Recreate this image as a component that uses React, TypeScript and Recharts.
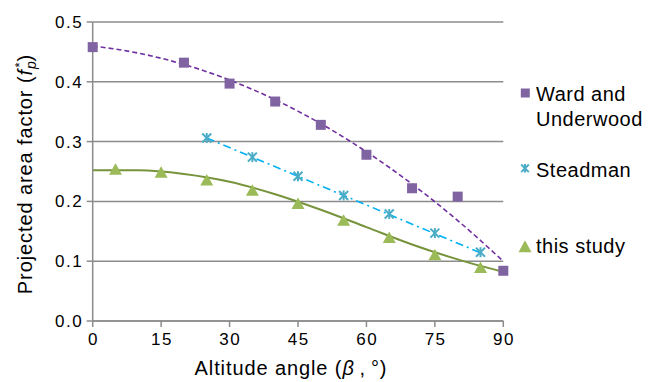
import React from 'react';
import { ComposedChart, XAxis, YAxis, CartesianGrid, Scatter, Line, Legend, Label } from 'recharts';

// ---- data ----
const xTicks = [0, 15, 30, 45, 60, 75, 90];
const yTicks = [0, 0.1, 0.2, 0.3, 0.4, 0.5];

const wardX = [0, 20, 30, 40, 50, 60, 70, 80, 90];
const wardY = [0.458, 0.432, 0.397, 0.367, 0.328, 0.278, 0.222, 0.208, 0.084];

const steadmanX = [25, 35, 45, 55, 65, 75, 85];
const steadmanY = [0.306, 0.274, 0.242, 0.21, 0.179, 0.147, 0.115];

const studyX = [5, 15, 25, 35, 45, 55, 65, 75, 85];
const studyY = [0.254, 0.249, 0.236, 0.219, 0.197, 0.169, 0.14, 0.111, 0.09];

// trend lines
const wardTrendX = [0, 10, 20, 30, 40, 50, 60, 70, 80, 90];
const wardTrendY = [0.46, 0.448, 0.429, 0.403, 0.37, 0.33, 0.283, 0.229, 0.168, 0.1];

const steadmanTrendX = [25, 55, 85];
const steadmanTrendY = [0.306, 0.21, 0.114];

const studyTrendX = [0, 10, 20, 30, 40, 50, 60, 70, 80, 90];
const studyTrendY = [0.252, 0.252, 0.246, 0.233, 0.212, 0.186, 0.157, 0.128, 0.103, 0.082];

const seriesNames = ['Ward and Underwood', 'Steadman', 'this study'];

const zip = (xs: number[], ys: number[]) => xs.map((x, i) => ({ x, y: ys[i] }));

const wardData = zip(wardX, wardY);
const steadmanData = zip(steadmanX, steadmanY);
const studyData = zip(studyX, studyY);
const wardTrend = zip(wardTrendX, wardTrendY);
const steadmanTrend = zip(steadmanTrendX, steadmanTrendY);
const studyTrend = zip(studyTrendX, studyTrendY);

// ---- styles ----
const FONT = '"Liberation Sans", Arial, Helvetica, sans-serif';
const GRID = '#8c8c8c';
const WARD = '#8064A2';
const WARD_LINE = '#7030A0';
const STEAD = '#4BACC6';
const STEAD_LINE = '#00B0F0';
const STUDY = '#9BBB59';
const STUDY_LINE = '#77933C';

const Square = ({ cx, cy, s = 10 }: any) => (
  <rect x={cx - s / 2} y={cy - s / 2} width={s} height={s} fill={WARD} />
);
const Star = ({ cx, cy, r = 4.5 }: any) => (
  <g stroke={STEAD} strokeWidth={2} fill="none">
    <line x1={cx - r} y1={cy - r} x2={cx + r} y2={cy + r} />
    <line x1={cx - r} y1={cy + r} x2={cx + r} y2={cy - r} />
    <line x1={cx} y1={cy - r - 0.5} x2={cx} y2={cy + r + 0.5} />
  </g>
);
const Tri = ({ cx, cy, w = 13, h = 11.5 }: any) => (
  <path
    d={`M${cx - w / 2},${cy + h / 2}L${cx + w / 2},${cy + h / 2}L${cx},${cy - h / 2}Z`}
    fill={STUDY}
  />
);

const XTick = ({ x, y, payload }: any) => (
  <text x={x + 0.75} y={y} dy="0.71em" textAnchor="middle" fontSize={17} fontFamily={FONT} letterSpacing={1.5} fill="#000">
    {payload.value}
  </text>
);
const YTick = ({ x, y, payload }: any) => (
  <text x={x} y={y} dy="0.355em" textAnchor="end" fontSize={17} fontFamily={FONT} letterSpacing={1.5} fill="#000">
    {Number(payload.value).toFixed(1)}
  </text>
);

const YLabel = () => (
  <text
    x={32}
    y={174}
    transform="rotate(-90, 32, 174)"
    textAnchor="middle"
    fontSize={20}
    fontFamily={FONT}
    letterSpacing={0.9}
    fill="#000"
  >
    <tspan>Projected  area  factor  (</tspan>
    <tspan fontStyle="italic">f</tspan>
    <tspan fontStyle="italic" fontSize={14} dy={4}>p</tspan>
    <tspan fontSize={13} dx={-7} dy={-12}>*</tspan>
    <tspan dy={8}>)</tspan>
  </text>
);

const XLabel = () => (
  <text x={291} y={375} textAnchor="middle" fontSize={20} fontFamily={FONT} letterSpacing={0.9} fill="#000">
    <tspan>Altitude angle (</tspan>
    <tspan fontStyle="italic">β</tspan>
    <tspan>{'\u2009,\u2009°)'}</tspan>
  </text>
);

const LegendContent = () => {
  const t = { fontSize: 20, fontFamily: FONT, letterSpacing: 0.5, fill: '#000' } as any;
  const [w1, w2] = ['Ward and', 'Underwood'];
  return (
    <svg width={143} height={200} style={{ display: 'block' }}>
      <Square cx={10.3} cy={18} s={9} />
      <text x={21} y={25.7} {...t}>{w1}</text>
      <text x={21} y={50.7} {...t}>{w2}</text>
      <Star cx={10} cy={93.3} r={3.8} />
      <text x={21} y={102.3} {...t}>{seriesNames[1]}</text>
      <Tri cx={10} cy={171.3} w={13} h={12} />
      <text x={21} y={178.3} {...t}>{seriesNames[2]}</text>
    </svg>
  );
};

export default function App() {
  return (
    <div style={{ position: 'absolute', left: 0, top: 0, background: '#fff' }}>
      <ComposedChart width={658} height={382} margin={{ top: 22, right: 154.7, bottom: 0, left: 0 }}>
        <CartesianGrid vertical={false} stroke={GRID} strokeWidth={1.5} />
        <XAxis
          type="number"
          dataKey="x"
          domain={[0, 90]}
          ticks={xTicks}
          interval={0}
          height={61}
          tickSize={6}
          tickMargin={6}
          axisLine={{ stroke: GRID, strokeWidth: 1.5 }}
          tickLine={{ stroke: GRID, strokeWidth: 1.5 }}
          tick={<XTick />}
        >
          <Label content={<XLabel />} />
        </XAxis>
        <YAxis
          type="number"
          dataKey="y"
          domain={[0, 0.5]}
          ticks={yTicks}
          interval={0}
          width={92.7}
          tickSize={6}
          tickMargin={3.5}
          axisLine={{ stroke: GRID, strokeWidth: 1.5 }}
          tickLine={{ stroke: GRID, strokeWidth: 1.5 }}
          tick={<YTick />}
        >
          <Label content={<YLabel />} />
        </YAxis>
        <Legend
          layout="vertical"
          align="center"
          verticalAlign="middle"
          wrapperStyle={{ left: 515, top: 75, width: 143, height: 200 }}
          content={<LegendContent />}
        />
        <Scatter name={seriesNames[0]} data={wardData} shape={<Square />} isAnimationActive={false} />
        <Scatter name={seriesNames[1]} data={steadmanData} shape={<Star />} isAnimationActive={false} />
        <Scatter name={seriesNames[2]} data={studyData} shape={<Tri />} isAnimationActive={false} />
        <Line
          data={wardTrend}
          dataKey="y"
          type="monotone"
          stroke={WARD_LINE}
          strokeWidth={1.6}
          strokeDasharray="5 3"
          dot={false}
          activeDot={false}
          legendType="none"
          isAnimationActive={false}
        />
        <Line
          data={steadmanTrend}
          dataKey="y"
          type="linear"
          stroke={STEAD_LINE}
          strokeWidth={1.6}
          strokeDasharray="8 4 2 4"
          dot={false}
          activeDot={false}
          legendType="none"
          isAnimationActive={false}
        />
        <Line
          data={studyTrend}
          dataKey="y"
          type="monotone"
          stroke={STUDY_LINE}
          strokeWidth={2}
          dot={false}
          activeDot={false}
          legendType="none"
          isAnimationActive={false}
        />
      </ComposedChart>
    </div>
  );
}
